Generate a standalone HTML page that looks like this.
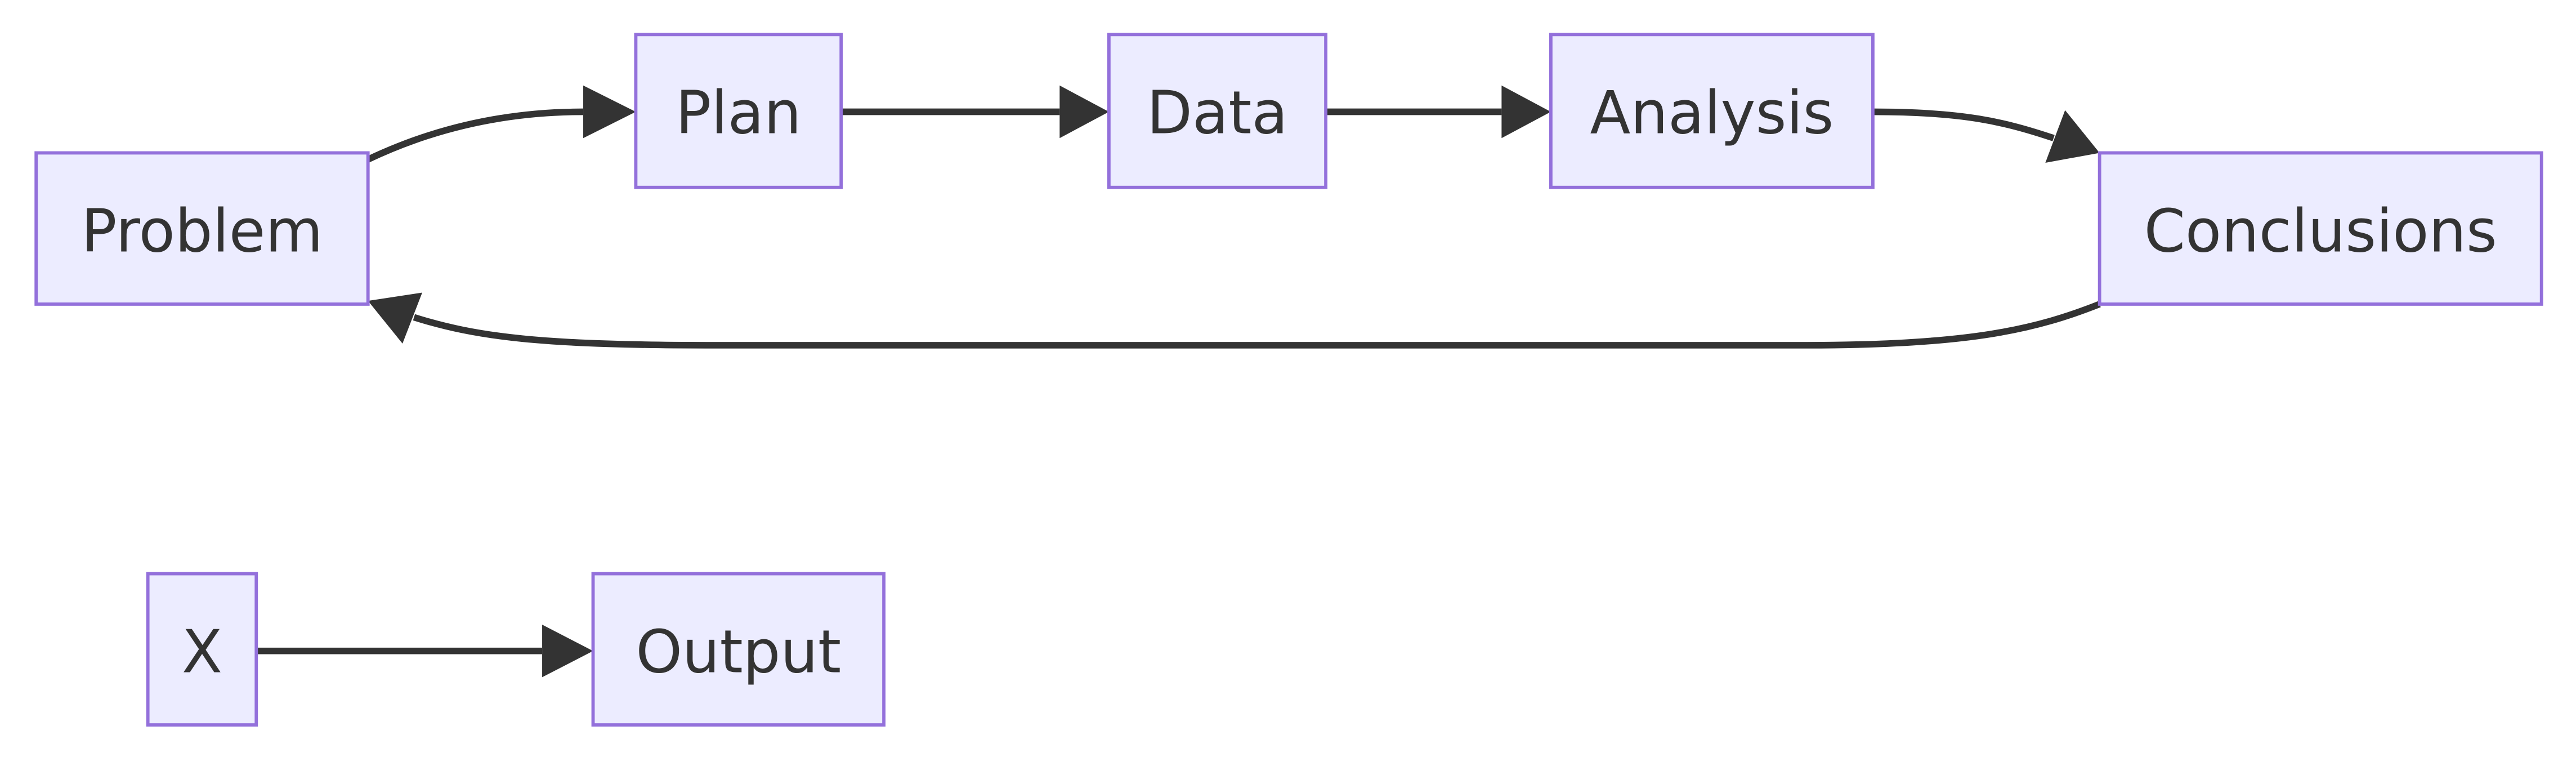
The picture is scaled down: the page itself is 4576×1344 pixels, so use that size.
<!DOCTYPE html>
<html><head><meta charset="utf-8"><style>html,body{margin:0;padding:0;background:#fff;}svg{display:block}</style></head>
<body>
<svg width="4576" height="1344" viewBox="0 0 1568 460.5" xmlns="http://www.w3.org/2000/svg">
<g fill="none" stroke="#333" stroke-width="4">
<path d="M224,97 Q285,68 355,68"/>
<path d="M512,68 L645,68"/>
<path d="M807,68 L914,68"/>
<path d="M1140,68 C1195,68 1220,74 1250,84"/>
<path d="M1278,185 C1240,200 1200,210 1100,210 L430,210 C330,210 290,205 252,193"/>
<path d="M156,396 L330,396"/>
</g>
<g fill="#333">
<path d="M355,52 L387,68 L355,84 z"/>
<path d="M645,52 L675,68 L645,84 z"/>
<path d="M914,52 L944,68 L914,84 z"/>
<path d="M1245,99 L1278,93 L1257,67 z"/>
<path d="M257,178 L224,183 L245,209 z"/>
<path d="M330,380 L361,396 L330,412 z"/>
</g>
<g fill="#ECECFF" stroke="#9370DB" stroke-width="2">
<rect x="22" y="93" width="202" height="92"/>
<rect x="387" y="21" width="125" height="93"/>
<rect x="675" y="21" width="132" height="93"/>
<rect x="944" y="21" width="196" height="93"/>
<rect x="1278" y="93" width="269" height="92"/>
<rect x="90" y="349" width="66" height="92"/>
<rect x="361" y="349" width="177" height="92"/>
</g>
<g font-family="'DejaVu Sans', 'Liberation Sans', sans-serif" font-size="36" fill="#333" text-anchor="middle">
<text x="123" y="153">Problem</text>
<text x="449.5" y="81">Plan</text>
<text x="741" y="81">Data</text>
<text x="1042" y="81">Analysis</text>
<text x="1412.5" y="153">Conclusions</text>
<text x="123" y="409">X</text>
<text x="449.5" y="409">Output</text>
</g>
</svg>
</body></html>
